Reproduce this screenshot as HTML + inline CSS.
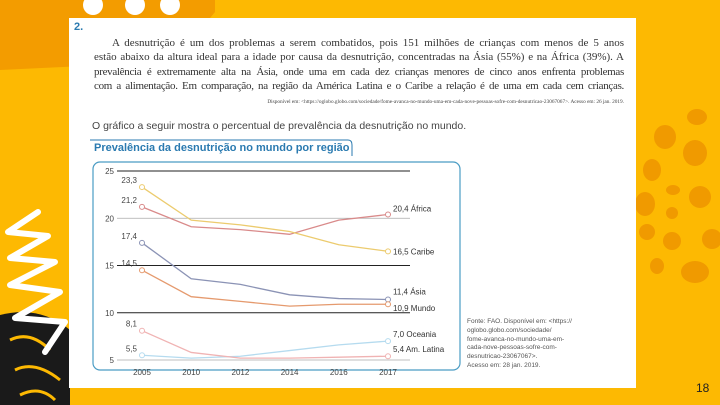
<!DOCTYPE html>
<html><head><meta charset="utf-8">
<style>
body{margin:0;width:720px;height:405px;overflow:hidden;background:#fdb902;position:relative;font-family:"Liberation Sans",sans-serif}
.abs{position:absolute}
.card{left:69px;top:18px;width:567px;height:370px;background:#fff}
.p{font-family:"Liberation Serif",serif;color:#333;font-size:11px;line-height:14.3px}
.p div{text-align:justify;text-align-last:justify;white-space:nowrap;height:14.3px}
</style></head><body>
<svg class="abs" style="left:0;top:0" width="720" height="405">
<path d="M0 0 H215 L205 10 Q215 15 210 60 L0 70 Z" fill="#f39c00"/>
<path d="M70 0 H215 V12 L210 18 H70 Z" fill="#f39c00"/>
<circle cx="93" cy="5" r="10" fill="#fff"/><circle cx="135" cy="5" r="10" fill="#fff"/><circle cx="170" cy="5" r="10" fill="#fff"/>
<path d="M0 315 Q40 305 70 330 L70 405 H0 Z" fill="#1a1a1a"/>
<path d="M10 340 Q30 330 50 350 M15 370 Q35 360 60 380 M20 395 Q40 385 55 400" stroke="#fdb902" stroke-width="3" fill="none"/>
<polyline points="38,212 8,232 48,236 10,258 55,262 10,285 60,292 15,318 65,322 45,352" stroke="#fff" stroke-width="6" fill="none" stroke-linejoin="round" stroke-linecap="round"/>
<g fill="#f09a00">
<ellipse cx="697" cy="117" rx="10" ry="8"/><ellipse cx="665" cy="137" rx="11" ry="12"/><ellipse cx="695" cy="153" rx="12" ry="13"/>
<ellipse cx="652" cy="170" rx="9" ry="11"/><ellipse cx="673" cy="190" rx="7" ry="5"/><ellipse cx="700" cy="197" rx="11" ry="11"/>
<ellipse cx="645" cy="204" rx="10" ry="12"/><ellipse cx="672" cy="213" rx="6" ry="6"/><ellipse cx="647" cy="232" rx="8" ry="8"/>
<ellipse cx="672" cy="241" rx="9" ry="9"/><ellipse cx="712" cy="239" rx="10" ry="10"/><ellipse cx="657" cy="266" rx="7" ry="8"/><ellipse cx="695" cy="272" rx="14" ry="11"/>
</g>
</svg>
<div class="abs card"></div>
<div class="abs" style="left:74px;top:21px;font-weight:bold;font-size:11px;color:#2a7ab0">2.</div>
<div class="abs p" style="left:94px;top:36px;width:530px">
<div style="padding-left:18px">A desnutrição é um dos problemas a serem combatidos, pois 151 milhões de crianças com menos de 5 anos</div>
<div>estão abaixo da altura ideal para a idade por causa da desnutrição, concentradas na Ásia (55%) e na África (39%). A</div>
<div style="letter-spacing:-0.3px">prevalência é extremamente alta na Ásia, onde uma em cada dez crianças menores de cinco anos enfrenta problemas</div>
<div style="letter-spacing:-0.3px">com a alimentação. Em comparação, na região da América Latina e o Caribe a relação é de uma em cada cem crianças.</div>
</div>
<div class="abs" style="left:92px;top:99px;width:532px;text-align:right;font-family:'Liberation Serif',serif;font-size:5.3px;color:#444;white-space:nowrap">Disponível em: &lt;https://oglobo.globo.com/sociedade/fome-avanca-no-mundo-uma-em-cada-nove-pessoas-sofre-com-desnutricao-23067067&gt;. Acesso em: 26 jan. 2019.</div>
<div class="abs" style="left:92px;top:120px;font-size:10.5px;color:#444">O gráfico a seguir mostra o percentual de prevalência da desnutrição no mundo.</div>
<svg class="abs" style="left:88px;top:138px" width="270" height="20"><path d="M2 2 H260 Q264 2 264 7 V18" stroke="#2a7ab0" stroke-width="1" fill="none"/></svg>
<div class="abs" style="left:94px;top:142px;font-weight:bold;font-size:11px;color:#2a7ab0">Prevalência da desnutrição no mundo por região</div>
<div class="abs" style="left:467px;top:318px;font-size:6.5px;line-height:8.8px;color:#555">Fonte: FAO. Disponível em: &lt;https://<br>oglobo.globo.com/sociedade/<br>fome-avanca-no-mundo-uma-em-<br>cada-nove-pessoas-sofre-com-<br>desnutricao-23067067&gt;.<br>Acesso em: 28 jan. 2019.</div>
<div class="abs" style="left:696px;top:381px;font-size:12px;color:#222">18</div>
<svg id="chart" class="abs" style="left:0;top:0" width="720" height="405"></svg>
<script>
const years=["2005","2010","2012","2014","2016","2017"];
const yTicks=[5,10,15,20,25];
const caribe=[23.3,19.8,19.3,18.6,17.2,16.5];
const africa=[21.2,19.1,18.8,18.3,19.8,20.4];
const asia=[17.4,13.6,13.0,11.9,11.5,11.4];
const mundo=[14.5,11.7,11.2,10.7,10.9,10.9];
const oceania=[5.5,5.2,5.4,6.0,6.6,7.0];
const amlatina=[8.1,5.8,5.2,5.2,5.3,5.4];
const labels=["20,4 África","16,5 Caribe","11,4 Ásia","10,9 Mundo","7,0 Oceania","5,4 Am. Latina"];
const startLabels=["23,3","21,2","17,4","14,5","8,1","5,5"];
const svg=document.getElementById('chart');
const NS='http://www.w3.org/2000/svg';
const x=i=>142+i*49.2;
const y=v=>360-(v-5)*9.45;
function el(t,a,p){const e=document.createElementNS(NS,t);for(const k in a)e.setAttribute(k,a[k]);(p||svg).appendChild(e);return e;}
const box=el('rect',{x:93,y:162,width:367,height:208,rx:7,fill:'none',stroke:'#4a9cc4','stroke-width':1.2});


yTicks.forEach(v=>{
 const g=el('line',{x1:117,x2:410,y1:y(v),y2:y(v),stroke:(v==20||v==5)?'#aaa':'#222','stroke-width':(v==20||v==5)?0.8:1});
 
 
 const t=el('text',{x:114,y:y(v)+3,'text-anchor':'end','font-size':8,fill:'#444','font-family':'Liberation Sans'});
 t.textContent=v;
 
 
});
years.forEach((yr,i)=>{
 const t=el('text',{x:x(i),y:375,'text-anchor':'middle','font-size':8,fill:'#444','font-family':'Liberation Sans'});
 t.textContent=yr;
 
 
});
const series=[[africa,'#d98a8a','africa'],[caribe,'#eccb6e','caribe'],[asia,'#8b93b5','asia'],[mundo,'#e59a6e','mundo'],[oceania,'#b5dbef','oceania'],[amlatina,'#f0b3b3','am-latina']];
series.forEach(s=>{
 const d=s[0].map((v,i)=>(i?'L':'M')+x(i)+' '+y(v)).join(' ');
 const p=el('path',{d:d,fill:'none',stroke:s[1],'stroke-width':1.3});
 
 
 [0,5].forEach(i=>{
  const c=el('circle',{cx:x(i),cy:y(s[0][i]),r:2.5,fill:'#fff',stroke:s[1],'stroke-width':1});
  
  
 });
});
const startSeries=[caribe,africa,asia,mundo,amlatina,oceania];
startSeries.forEach((s,i)=>{
 const t=el('text',{x:x(0)-5,y:y(s[0])-4,'text-anchor':'end','font-size':8,fill:'#444','font-family':'Liberation Sans'});
 t.textContent=startLabels[i];
 
 
});
const endSeries=[africa,caribe,asia,mundo,oceania,amlatina];
const endDy=[-3,3,-5,7,-4,-4];
endSeries.forEach((s,i)=>{
 const t=el('text',{x:x(5)+5,y:y(s[5])+endDy[i],'font-size':8,fill:'#333','font-family':'Liberation Sans'});
 t.textContent=labels[i];
 
 
});
</script>
</body></html>
